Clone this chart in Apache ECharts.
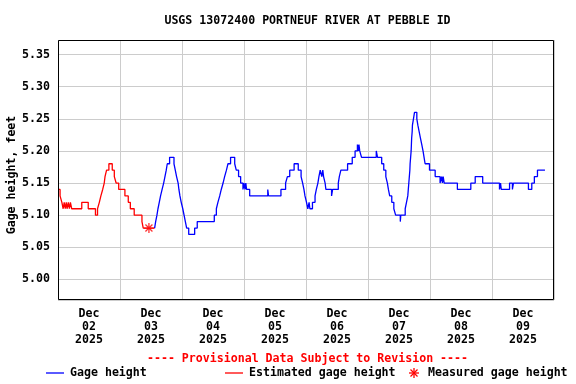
<!DOCTYPE html>
<html>
<head>
<meta charset="utf-8">
<title>USGS 13072400 PORTNEUF RIVER AT PEBBLE ID</title>
<script src="https://cdn.jsdelivr.net/npm/echarts@6/dist/echarts.min.js"></script>
<style>
  html, body { margin: 0; padding: 0; background: #fff; }
  #chart { width: 576px; height: 384px; }
</style>
</head>
<body>
<div id="chart"></div>
<script>
// hours since Dec 02 00:00, value = gage height (ft), each value holds until the next hour
const redHours = [0, 0.8, 1.5, 2.0, 2.4, 2.8, 3.2, 3.5, 4.0, 4.4,
    4.8, 5.3, 9.2, 11.7, 14.5, 15.3, 16.0, 16.6, 17.3, 17.9,
    18.2, 18.8, 19.7, 21.0, 21.8, 22.5, 23.5, 25.9, 27.2, 28.0,
    29.5, 32.5, 33.0, 37.4]
const redValues = [5.14, 5.13, 5.12, 5.11, 5.12, 5.11, 5.12, 5.11, 5.12, 5.11,
    5.12, 5.11, 5.12, 5.11, 5.10, 5.11, 5.12, 5.13, 5.14, 5.15,
    5.16, 5.17, 5.18, 5.17, 5.16, 5.15, 5.14, 5.13, 5.12, 5.11,
    5.10, 5.09, 5.08, 5.08]

const blueHours = [37.4, 37.8, 38.3, 38.7, 39.2, 39.7, 40.3, 40.9, 41.4, 41.9,
    42.3, 43.2, 44.9, 45.4, 45.9, 46.5, 46.8, 47.2, 47.7, 48.3,
    48.8, 49.3, 49.8, 50.6, 52.9, 53.9, 60.5, 61.3, 61.9, 62.6,
    63.2, 63.9, 64.5, 65.2, 65.8, 66.8, 68.4, 69.0, 69.9, 70.7,
    71.6, 72.0, 72.4, 72.7, 73.0, 74.2, 81.2, 81.5, 86.3, 88.1,
    88.8, 89.7, 91.4, 93.0, 94.1, 94.7, 95.2, 95.6, 96.2, 96.7,
    97.2, 97.5, 98.5, 99.5, 100.0, 100.6, 101.0, 101.5, 102.1, 102.5,
    102.8, 103.4, 103.7, 105.9, 106.3, 108.5, 108.9, 109.5, 112.1, 113.9,
    115.0, 115.9, 116.3, 116.5, 116.8, 117.5, 123.2, 123.7, 125.3, 126.1,
    126.9, 127.5, 127.9, 128.4, 129.2, 130.0, 130.7, 132.5, 132.7, 134.4,
    134.9, 135.4, 135.6, 135.8, 136.0, 136.2, 136.3, 136.5, 136.7, 136.8,
    136.9, 137.1, 137.2, 137.6, 138.0, 138.9, 139.3, 139.8, 140.3, 140.8,
    141.3, 141.7, 142.1, 143.8, 146.0, 147.9, 148.5, 148.8, 149.1, 149.5,
    154.6, 159.8, 161.5, 164.4, 170.9, 171.3, 171.6, 174.8, 175.9, 176.3,
    182.1, 183.4, 184.4, 185.6, 188.5]
const blueValues = [5.08, 5.09, 5.10, 5.11, 5.12, 5.13, 5.14, 5.15, 5.16, 5.17,
    5.18, 5.19, 5.18, 5.17, 5.16, 5.15, 5.14, 5.13, 5.12, 5.11,
    5.10, 5.09, 5.08, 5.07, 5.08, 5.09, 5.10, 5.11, 5.12, 5.13,
    5.14, 5.15, 5.16, 5.17, 5.18, 5.19, 5.18, 5.17, 5.16, 5.15,
    5.14, 5.15, 5.14, 5.15, 5.14, 5.13, 5.14, 5.13, 5.14, 5.15,
    5.16, 5.17, 5.18, 5.17, 5.16, 5.15, 5.14, 5.13, 5.12, 5.11,
    5.12, 5.11, 5.12, 5.13, 5.14, 5.15, 5.16, 5.17, 5.16, 5.17,
    5.16, 5.15, 5.14, 5.13, 5.14, 5.15, 5.16, 5.17, 5.18, 5.19,
    5.20, 5.21, 5.20, 5.21, 5.20, 5.19, 5.20, 5.19, 5.18, 5.17,
    5.16, 5.15, 5.14, 5.13, 5.12, 5.11, 5.10, 5.09, 5.10, 5.11,
    5.12, 5.13, 5.14, 5.15, 5.16, 5.17, 5.18, 5.19, 5.20, 5.21,
    5.22, 5.23, 5.24, 5.25, 5.26, 5.25, 5.24, 5.23, 5.22, 5.21,
    5.20, 5.19, 5.18, 5.17, 5.16, 5.15, 5.16, 5.15, 5.16, 5.15,
    5.14, 5.15, 5.16, 5.15, 5.14, 5.15, 5.14, 5.15, 5.14, 5.15,
    5.14, 5.15, 5.16, 5.17, 5.17]

// field measurement
const measuredHours = [35.2]
const measuredValues = [5.08]

// tick labels, one per day, placed at noon
const dayLabels = ['Dec\n02\n2025', 'Dec\n03\n2025', 'Dec\n04\n2025', 'Dec\n05\n2025',
    'Dec\n06\n2025', 'Dec\n07\n2025', 'Dec\n08\n2025', 'Dec\n09\n2025']

const titleText = 'USGS 13072400 PORTNEUF RIVER AT PEBBLE ID'
const yName = 'Gage height, feet'

const FONT = 'DejaVu Sans Mono'
const FS = 11.6

// plot box
const GL = 58, GR = 22, GT = 40, GB = 84

function pairs(xs, ys) {
    return xs.map((x, i) => [x, ys[i]])
}

// asterisk symbol
const starPath = 'path://M0,5L10,5M5,0L5,10M1.5,1.5L8.5,8.5M8.5,1.5L1.5,8.5'

const chart = echarts.init(document.getElementById('chart'), null, { renderer: 'canvas' })

const textStyle = { fontFamily: FONT, fontWeight: 'bold', fontSize: FS, fill: '#000' }

chart.setOption({
    animation: false,
    backgroundColor: '#fff',
    grid: { left: GL, right: GR, top: GT, bottom: GB },
    xAxis: [{
        // gridlines at midnight
        type: 'value', min: 0, max: 192, interval: 24,
        axisLine: { show: false }, axisTick: { show: false },
        axisLabel: { show: false },
        splitLine: { show: true, lineStyle: { color: '#cccccc', width: 1 } }
    }, {
        // day labels at noon
        type: 'value', min: 0, max: 192, interval: 12, position: 'bottom',
        axisLine: { show: false }, axisTick: { show: false },
        splitLine: { show: false },
        axisLabel: {
            margin: 7, lineHeight: 13,
            fontFamily: FONT, fontWeight: 'bold', fontSize: FS, color: '#000',
            formatter: function (v) {
                if (v % 24 === 12) return dayLabels[(v - 12) / 24]
                return ''
            }
        }
    }],
    yAxis: {
        type: 'value', min: 4.968, max: 5.3726, splitNumber: 8,
        axisLine: { show: false }, axisTick: { show: false },
        axisLabel: {
            margin: 8, showMinLabel: false, showMaxLabel: false,
            fontFamily: FONT, fontWeight: 'bold', fontSize: FS, color: '#000',
            formatter: v => v.toFixed(2)
        },
        splitLine: { show: true, lineStyle: { color: '#cccccc', width: 1 } }
    },
    series: [{
        name: 'Estimated gage height',
        type: 'line', step: 'end', showSymbol: false,
        data: pairs(redHours, redValues),
        lineStyle: { color: '#ff0000', width: 1.3 },
        z: 3
    }, {
        name: 'Gage height',
        type: 'line', step: 'end', showSymbol: false,
        data: pairs(blueHours, blueValues),
        lineStyle: { color: '#0000ff', width: 1.3 },
        z: 3
    }, {
        name: 'Measured gage height',
        type: 'scatter',
        data: pairs(measuredHours, measuredValues),
        symbol: starPath, symbolSize: 10,
        itemStyle: { color: 'none', borderColor: '#ff0000', borderWidth: 1.3 },
        z: 4
    }],
    graphic: [
        // black frame over the split lines
        { type: 'rect', z: 100, shape: { x: GL + 0.5, y: GT + 0.5, width: 576 - GL - GR - 1, height: 384 - GT - GB - 1 },
          style: { fill: 'none', stroke: '#000', lineWidth: 1 } },
        { type: 'text', x: 307.5, y: 21, style: Object.assign({ text: titleText, textAlign: 'center', textVerticalAlign: 'middle' }, textStyle) },
        { type: 'text', x: 12, y: 175, rotation: Math.PI / 2, style: Object.assign({ text: yName, textAlign: 'center', textVerticalAlign: 'middle' }, textStyle) },
        { type: 'text', x: 307.5, y: 359, style: Object.assign({}, textStyle, { text: '---- Provisional Data Subject to Revision ----', textAlign: 'center', textVerticalAlign: 'middle', fill: '#ff0000' }) },
        // legend row
        { type: 'line', shape: { x1: 46, y1: 373, x2: 64, y2: 373 }, style: { stroke: '#0000ff', lineWidth: 1.3 } },
        { type: 'text', x: 70, y: 373, style: Object.assign({ text: 'Gage height', textVerticalAlign: 'middle' }, textStyle) },
        { type: 'line', shape: { x1: 225, y1: 373, x2: 243, y2: 373 }, style: { stroke: '#ff0000', lineWidth: 1.3 } },
        { type: 'text', x: 249, y: 373, style: Object.assign({ text: 'Estimated gage height', textVerticalAlign: 'middle' }, textStyle) },
        { type: 'line', shape: { x1: 409, y1: 373, x2: 419, y2: 373 }, style: { stroke: '#ff0000', lineWidth: 1.3 } },
        { type: 'line', shape: { x1: 414, y1: 368, x2: 414, y2: 378 }, style: { stroke: '#ff0000', lineWidth: 1.3 } },
        { type: 'line', shape: { x1: 410.5, y1: 369.5, x2: 417.5, y2: 376.5 }, style: { stroke: '#ff0000', lineWidth: 1.3 } },
        { type: 'line', shape: { x1: 417.5, y1: 369.5, x2: 410.5, y2: 376.5 }, style: { stroke: '#ff0000', lineWidth: 1.3 } },
        { type: 'text', x: 428, y: 373, style: Object.assign({ text: 'Measured gage height', textVerticalAlign: 'middle' }, textStyle) }
    ]
})
</script>
</body>
</html>
